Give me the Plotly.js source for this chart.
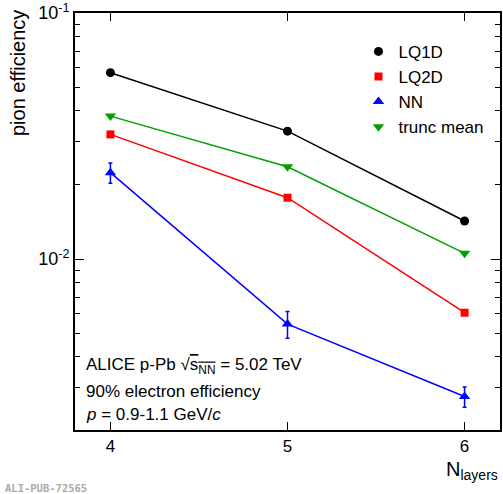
<!DOCTYPE html>
<html><head><meta charset="utf-8">
<script src="https://cdn.plot.ly/plotly-3.0.1.min.js"></script>
<style>html,body{margin:0;padding:0;background:#fff}#plot{width:503px;height:494px}</style>
</head><body><div id="plot"></div>
<script>
const nLayers = [4, 5, 6];
const lq1d = [0.0572, 0.0331, 0.01427];
const lq2d = [0.0321, 0.01775, 0.00605];
const nn = [0.02244, 0.00544, 0.00276];
const nnErr = [0.0021, 0.00068, 0.00026];
const truncMean = [0.0381, 0.0237, 0.01055];
const seriesNames = ['LQ1D', 'LQ2D', 'NN', 'trunc mean'];
const yTickVals = [0.01, 0.1];
const yTickText = ['10<sup>-2</sup>', '10<sup>-1</sup>'];
const minorY = [0.002,0.003,0.004,0.005,0.006,0.007,0.008,0.009,0.02,0.03,0.04,0.05,0.06,0.07,0.08,0.09];

const F = 'Liberation Sans, Arial, Helvetica, sans-serif';
const styles = [
  {y: lq1d, color: '#000000', symbol: 'circle', size: 9},
  {y: lq2d, color: '#ff0000', symbol: 'square', size: 8},
  {y: nn, color: '#0000ff', symbol: 'triangle-up', size: 10, err: nnErr},
  {y: truncMean, color: '#00a000', symbol: 'triangle-down', size: 10}
];
const data = [];
styles.forEach((s, i) => {
  const t = {
    x: nLayers, y: s.y, mode: 'lines+markers', name: seriesNames[i], showlegend: false,
    line: {color: s.color, width: 1.5},
    marker: {color: s.color, symbol: s.symbol, size: s.size}
  };
  if (s.err) t.error_y = {type: 'data', array: s.err, visible: true, color: s.color, thickness: 1.5, width: 2};
  data.push(t);
});
styles.forEach((s, i) => {
  data.push({x: [null], y: [null], mode: 'markers', name: seriesNames[i], showlegend: true,
    marker: {color: s.color, symbol: s.symbol, size: s.size}});
});

const layout = {
  width: 503, height: 494,
  margin: {l: 75, r: 3, t: 13, b: 64},
  paper_bgcolor: '#fff', plot_bgcolor: '#fff',
  font: {family: F, color: '#000', size: 17},
  showlegend: true,
  legend: {x: 0.667, y: 0.95, xanchor: 'left', yanchor: 'top', bgcolor: 'rgba(0,0,0,0)',
    font: {size: 17, family: F}, tracegroupgap: 0, itemwidth: 30},
  xaxis: {
    range: [3.8, 6.2], tickvals: nLayers, ticktext: ['4', '5', '6'],
    ticks: 'inside', ticklen: 8, tickwidth: 1, tickcolor: '#000',
    showline: true, linewidth: 2, linecolor: '#000', mirror: 'ticks',
    showgrid: false, zeroline: false, tickfont: {size: 17, family: F}
  },
  yaxis: {
    type: 'log', range: [-2.695, -1], tickvals: yTickVals, ticktext: yTickText,
    ticks: 'inside', ticklen: 9, tickwidth: 1, tickcolor: '#000',
    showline: true, linewidth: 2, linecolor: '#000', mirror: 'ticks',
    showgrid: false, zeroline: false, tickfont: {size: 18, family: F},
    minor: {tickmode: 'array', tickvals: minorY, ticks: 'inside', ticklen: 5, tickcolor: '#000', tickwidth: 1, showgrid: false}
  },
  annotations: [
    {text: 'pion efficiency', textangle: -90, xref: 'paper', yref: 'paper', x: -0.134, y: 1.012,
      xanchor: 'center', yanchor: 'top', showarrow: false, font: {size: 20, family: F}},
    {text: 'N<sub>layers</sub>', xref: 'paper', yref: 'paper', x: 1, y: -0.096,
      xanchor: 'right', yanchor: 'middle', showarrow: false, font: {size: 20, family: F}},
    {text: 'ALICE p-Pb √<span style="text-decoration:overline">s<sub>NN</sub></span> = 5.02 TeV', xref: 'paper', yref: 'paper',
      x: 0.02, y: 0.153, xanchor: 'left', yanchor: 'middle', showarrow: false, font: {size: 17, family: F}},
    {text: '90% electron efficiency', xref: 'paper', yref: 'paper',
      x: 0.02, y: 0.092, xanchor: 'left', yanchor: 'middle', showarrow: false, font: {size: 17, family: F}},
    {text: '<i>p</i> = 0.9-1.1 GeV/<i>c</i>', xref: 'paper', yref: 'paper',
      x: 0.02, y: 0.038, xanchor: 'left', yanchor: 'middle', showarrow: false, font: {size: 17, family: F}},
    {text: '<b>ALI-PUB-72565</b>', xref: 'paper', yref: 'paper', x: -0.169, y: -0.139,
      xanchor: 'left', yanchor: 'middle', showarrow: false, font: {size: 10.5, family: 'DejaVu Sans Mono, monospace', color: '#aaa'}}
  ]
};
Plotly.newPlot('plot', data, layout, {displayModeBar: false, staticPlot: true});
</script></body></html>
